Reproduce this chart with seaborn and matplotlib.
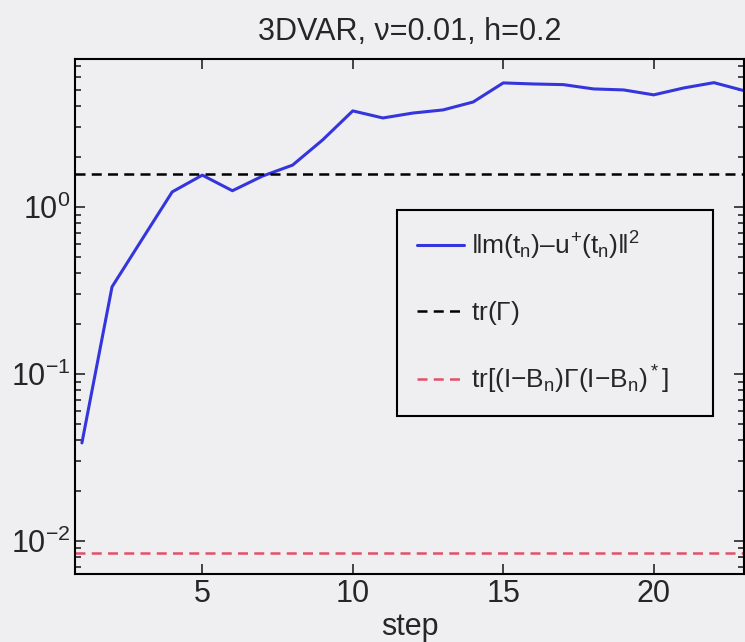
#3DVAR error vs step, log scale (MATLAB style figure)

#import libraries
import numpy as np
import pandas as pd
import matplotlib
matplotlib.use('Agg')
import matplotlib.pyplot as plt
import seaborn as sns

#data
steps = list(range(1, 24))
err = [0.0386, 0.332, 0.64, 1.23, 1.55, 1.25, 1.53, 1.78, 2.52, 3.76,
       3.41, 3.65, 3.81, 4.25, 5.53, 5.45, 5.40, 5.09, 5.02, 4.69,
       5.16, 5.55, 4.97]
tr_gamma = 1.576
tr_filter = 0.00848

labels = [r'$\|m(t_n)\endash u^{+}(t_n)\|^2$',
          r'tr($\Gamma$)',
          r'tr[(I$-$B$_n$)$\Gamma$(I$-$B$_n$)$^*$]']

df = pd.DataFrame({'step': steps, 'err': err})

#style
sns.set_style('ticks')
bg = '#efeff1'
plt.rcParams['font.family'] = ['Liberation Sans', 'DejaVu Sans']
plt.rcParams['mathtext.fontset'] = 'custom'
plt.rcParams['mathtext.rm'] = 'Liberation Sans'
plt.rcParams['mathtext.it'] = 'Liberation Sans'
plt.rcParams['mathtext.bf'] = 'Liberation Sans:bold'

fig = plt.figure(figsize=(7.45, 6.42), dpi=100, facecolor=bg)
ax = fig.add_axes([75/745, 68/642, 669/745, 515/642])
ax.set_facecolor(bg)

sns.lineplot(data=df, x='step', y='err', ax=ax, color='#3535dd', lw=2.2, label=labels[0])
ax.axhline(tr_gamma, color='black', ls=(0, (4, 2.5)), lw=1.8, label=labels[1])
ax.axhline(tr_filter, color='#e4506a', ls=(0, (4, 2.5)), lw=1.8, label=labels[2])

ax.set_yscale('log')
ax.set_xlim(0.77, 23)
ax.set_ylim(6.33e-3, 7.69)
ax.set_xticks([5, 10, 15, 20])
ax.set_yticks([1e-2, 1e-1, 1e0])

for s in ax.spines.values():
    s.set_linewidth(1.5)
    s.set_color('black')
ax.tick_params(which='both', direction='in', top=True, right=True, labelsize=22, width=1.2)
ax.tick_params(which='major', length=7)
ax.tick_params(which='minor', length=4)

ax.set_xlabel('step', fontsize=22, labelpad=2)
ax.set_ylabel('')
ax.set_title('3DVAR, \u03bd=0.01, h=0.2', fontsize=22, pad=14)

leg = ax.legend(loc='upper left', bbox_to_anchor=(0.481, 0.707, 0.473, 0.0), mode='expand',
                fontsize=19, frameon=True, fancybox=False, edgecolor='black',
                facecolor=bg, framealpha=1, handlelength=1.8, handletextpad=0.25,
                borderpad=0.75, labelspacing=1.4, borderaxespad=0)
leg.get_frame().set_linewidth(1.5)

fig.savefig('out.png', dpi=100, facecolor=bg)
